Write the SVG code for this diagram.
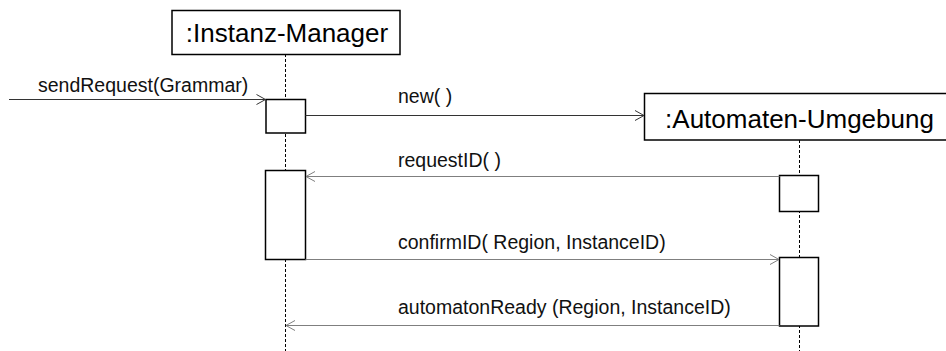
<svg xmlns="http://www.w3.org/2000/svg" width="946" height="351" viewBox="0 0 946 351">
  <style>
    .obj { fill: #ffffff; stroke: #000000; stroke-width: 1.5; }
    .act { fill: #ffffff; stroke: #000000; stroke-width: 1.5; }
    .life { stroke: #000000; stroke-width: 1; stroke-dasharray: 3 2; fill: none; }
    .title { font-family: "Liberation Sans", Arial, sans-serif; font-size: 26px; fill: #000000; }
    .label { font-family: "Liberation Sans", Arial, sans-serif; font-size: 19.5px; fill: #111111; }
    .msg-dark { stroke: #333333; stroke-width: 1; fill: none; marker-end: url(#head-dark); }
    .msg-grey { stroke: #7f7f7f; stroke-width: 1; fill: none; marker-end: url(#head-grey); }
  </style>
  <defs>
    <marker id="head-dark" markerUnits="userSpaceOnUse" markerWidth="12" markerHeight="12" viewBox="-11 -6 12 12" refX="0" refY="0" orient="auto" overflow="visible">
      <path d="M-9,-5 L0,0 L-9,5" fill="none" stroke="#333333" stroke-width="1"/>
    </marker>
    <marker id="head-grey" markerUnits="userSpaceOnUse" markerWidth="12" markerHeight="12" viewBox="-11 -6 12 12" refX="0" refY="0" orient="auto" overflow="visible">
      <path d="M-9,-5 L0,0 L-9,5" fill="none" stroke="#7f7f7f" stroke-width="1"/>
    </marker>
  </defs>

  <rect width="946" height="351" fill="#ffffff"/>

  <!-- lifelines -->
  <g id="lifelines">
    <line class="life" x1="285.5" y1="54" x2="285.5" y2="351"/>
    <line class="life" x1="799.5" y1="140" x2="799.5" y2="351"/>
  </g>

  <!-- participant: Instanz-Manager -->
  <g id="instanz-manager">
    <rect class="obj" x="172" y="10.5" width="228" height="44"/>
    <text class="title" x="287" y="42" text-anchor="middle">:Instanz-Manager</text>
    <rect class="act" x="266" y="99.5" width="39.5" height="33.5"/>
    <rect class="act" x="265.5" y="170.5" width="40" height="89"/>
  </g>

  <!-- participant: Automaten-Umgebung -->
  <g id="automaten-umgebung">
    <rect class="obj" x="644.5" y="93.5" width="310" height="46.5"/>
    <text class="title" x="799.5" y="128" text-anchor="middle">:Automaten-Umgebung</text>
    <rect class="act" x="779.5" y="175.5" width="39" height="36"/>
    <rect class="act" x="779.5" y="257.5" width="39" height="68.5"/>
  </g>

  <!-- messages -->
  <g id="connectors">
    <line class="msg-dark" x1="9" y1="99.5" x2="265.5" y2="99.5"/>
    <line class="msg-dark" x1="305.5" y1="115.5" x2="644" y2="115.5"/>
    <line class="msg-grey" x1="779.5" y1="176.5" x2="306" y2="176.5"/>
    <line class="msg-grey" x1="305.5" y1="259.5" x2="779" y2="259.5"/>
    <line class="msg-grey" x1="779.5" y1="325.5" x2="286" y2="325.5"/>
  </g>

  <!-- message labels -->
  <g id="labels">
    <text class="label" x="38" y="92">sendRequest(Grammar)</text>
    <text class="label" x="398" y="103">new( )</text>
    <text class="label" x="398" y="167">requestID( )</text>
    <text class="label" x="398" y="249">confirmID( Region, InstanceID)</text>
    <text class="label" x="398" y="314">automatonReady (Region, InstanceID)</text>
  </g>
</svg>
